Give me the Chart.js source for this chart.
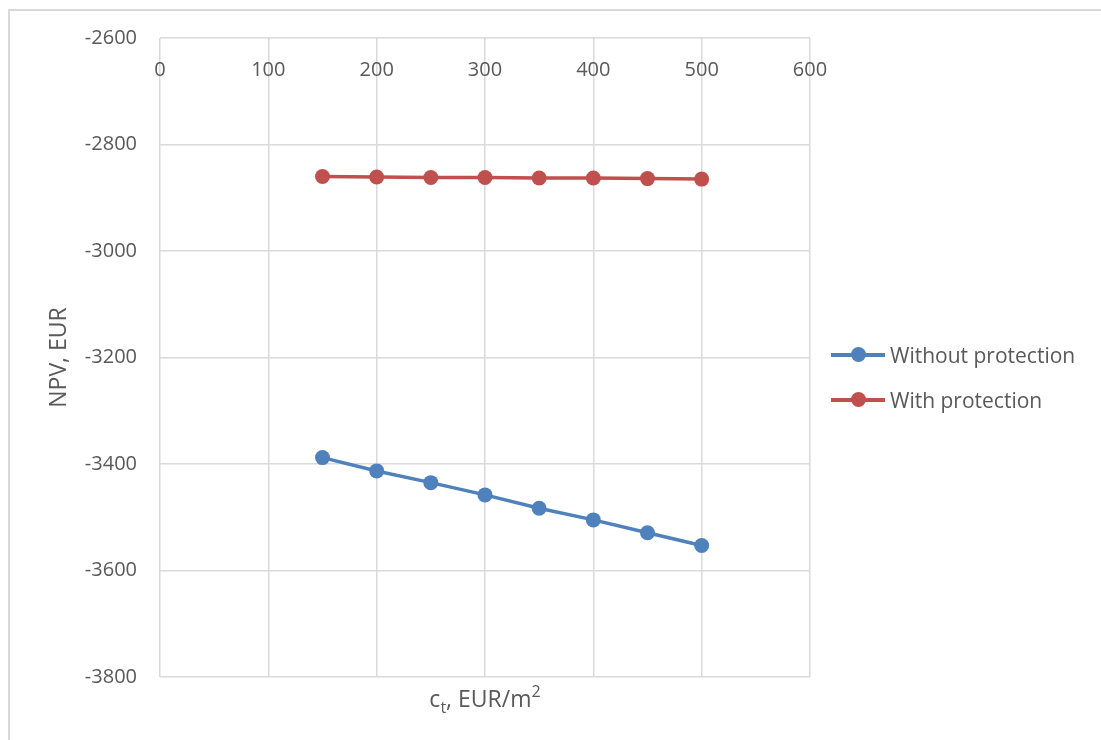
<!DOCTYPE html>
<html>
<head>
<meta charset="utf-8">
<script src="https://cdn.jsdelivr.net/npm/chart.js@4/dist/chart.umd.min.js"></script>
<style>
  html, body { margin: 0; padding: 0; background: #ffffff; }
  body { width: 1101px; height: 740px; position: relative; overflow: hidden; font-family: "Open Sans", sans-serif; color: #595959; }
  #frame { position: absolute; left: 8px; top: 9px; width: 1200px; height: 800px; border-left: 2px solid #d9d9d9; border-top: 2px solid #d9d9d9; }
  #wrap { position: absolute; left: 0; top: 0; width: 1101px; height: 740px; }
  #xTitle { position: absolute; left: 335px; width: 300px; top: 684px; text-align: center; font-size: 23px; line-height: 28px; }
  #xTitle sub { font-size: 16px; vertical-align: -6px; line-height: 0; }
  #xTitle sup { font-size: 16px; vertical-align: 10px; line-height: 0; }
  #legend { position: absolute; left: 831px; top: 340px; font-size: 21px; }
  .legend-row { display: flex; align-items: center; height: 30px; margin-bottom: 15px; }
  .legend-mark { position: relative; width: 54px; height: 3.5px; margin-right: 5px; }
  .legend-mark::after { content: ''; position: absolute; left: 20px; top: -6px; width: 15px; height: 15px; border-radius: 50%; background: inherit; }
</style>
</head>
<body>
<div id="frame"></div>
<div id="wrap"><canvas id="npvChart"></canvas></div>
<div id="xTitle">c<sub>t</sub>, EUR/m<sup>2</sup></div>
<div id="legend"></div>
<script>
  const costs = [150, 200, 250, 300, 350, 400, 450, 500];
  const npvWithout = [-3388, -3413, -3435, -3458, -3483, -3505, -3529, -3553];
  const npvWith = [-2860, -2861, -2862, -2862, -2863, -2863, -2864, -2865];
  const seriesNames = ['Without protection', 'With protection'];
  const seriesColors = ['#4f81bd', '#c0504d'];

  const tickFont = { family: '"Open Sans", sans-serif', size: 20 };
  const titleFont = { family: '"Open Sans", sans-serif', size: 23 };
  const gridColor = '#d9d9d9';

  function toPoints(ys) {
    return costs.map((x, i) => ({ x, y: ys[i] }));
  }

  function lineSet(label, ys, color) {
    return {
      label,
      data: toPoints(ys),
      showLine: true,
      borderColor: color,
      backgroundColor: color,
      borderWidth: 3.5,
      pointRadius: 7.5,
      pointBorderWidth: 0,
      pointBackgroundColor: color,
      tension: 0
    };
  }

  const plain = (v) => String(v);

  const chart = new Chart(document.getElementById('npvChart'), {
    type: 'scatter',
    data: {
      datasets: [
        lineSet(seriesNames[0], npvWithout, seriesColors[0]),
        lineSet(seriesNames[1], npvWith, seriesColors[1])
      ]
    },
    options: {
      responsive: true,
      maintainAspectRatio: false,
      animation: false,
      layout: { padding: { left: 0, top: 38, right: 291, bottom: 63 } },
      plugins: {
        legend: { display: false },
        tooltip: { enabled: false }
      },
      scales: {
        x: {
          type: 'linear',
          position: { y: -2600 },
          min: 0,
          max: 600,
          ticks: { stepSize: 100, color: '#595959', font: tickFont, padding: 20, maxRotation: 0, callback: plain },
          grid: { color: gridColor, lineWidth: 1.5, drawTicks: false },
          border: { display: false }
        },
        y: {
          type: 'linear',
          min: -3800,
          max: -2600,
          ticks: { stepSize: 200, color: '#595959', font: tickFont, padding: 23, callback: plain },
          grid: { color: gridColor, lineWidth: 1.5, drawTicks: false },
          border: { display: false },
          title: {
            display: true,
            text: 'NPV, EUR',
            color: '#595959',
            font: titleFont,
            padding: { top: 46, bottom: 0 }
          },
          afterFit(scale) { scale.width = 160; }
        }
      }
    }
  });

  const legendEl = document.getElementById('legend');
  legendEl.innerHTML = seriesNames.map((name, i) =>
    `<div class="legend-row"><span class="legend-mark" style="background:${seriesColors[i]}"></span><span>${name}</span></div>`
  ).join('');
</script>
</body>
</html>
